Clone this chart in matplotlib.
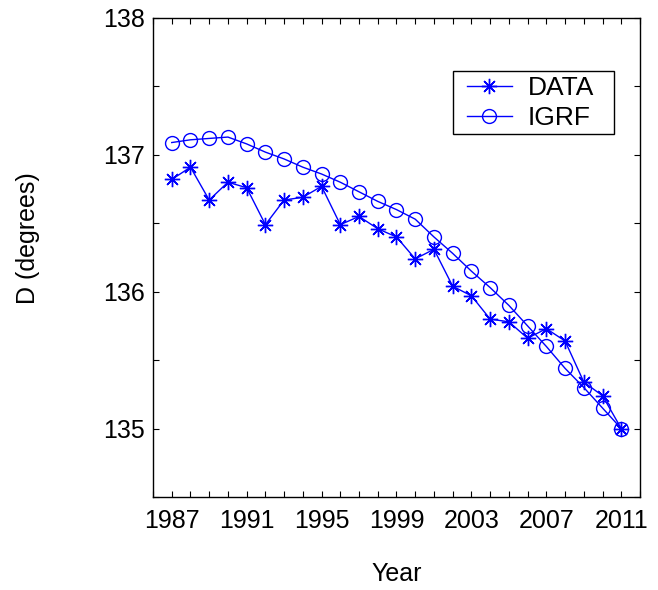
import matplotlib
matplotlib.use("Agg")
import matplotlib.pyplot as plt
from matplotlib.patches import Rectangle
from matplotlib.ticker import MultipleLocator, FixedLocator

plt.rcParams['font.family'] = ['Liberation Sans', 'DejaVu Sans']

years = list(range(1987, 2012))
data_d = [136.82, 136.91, 136.67, 136.80, 136.76, 136.49, 136.67, 136.69,
          136.77, 136.49, 136.55, 136.46, 136.40, 136.24, 136.31, 136.04,
          135.97, 135.80, 135.78, 135.66, 135.73, 135.64, 135.34, 135.24,
          135.00]
igrf_d = [137.09, 137.11, 137.12, 137.13, 137.08, 137.02, 136.97, 136.91,
          136.86, 136.80, 136.73, 136.66, 136.60, 136.53, 136.40, 136.28,
          136.15, 136.03, 135.90, 135.75, 135.60, 135.44, 135.30, 135.15,
          135.00]
year_ticks = [1987, 1991, 1995, 1999, 2003, 2007, 2011]
d_ticks = [135, 136, 137, 138]

fig = plt.figure(figsize=(6.58, 5.90), dpi=100)
ax = fig.add_axes([153 / 658, 1 - 497 / 590, 487 / 658, 479 / 590])

ax.plot(years, data_d, color='b', lw=1.0, marker=(8, 2, 0), ms=11,
        mew=1.0, label='DATA')
ax.plot(years, igrf_d, color='b', lw=1.0, marker='o', ms=10,
        mfc='none', mew=1.0, label='IGRF')

ax.set_xlim(1986, 2012)
ax.set_ylim(134.5, 138)
ax.xaxis.set_major_locator(FixedLocator(year_ticks))
ax.xaxis.set_minor_locator(MultipleLocator(1))
ax.yaxis.set_major_locator(FixedLocator(d_ticks))
ax.yaxis.set_minor_locator(MultipleLocator(0.5))
ax.tick_params(which='both', direction='in', top=True, right=True,
               length=4, width=0.8, labelsize=18)
ax.tick_params(axis='x', pad=9)
ax.tick_params(axis='y', pad=6)
for s in ax.spines.values():
    s.set_linewidth(1.0)

ax.set_xlabel('Year', fontsize=18)
ax.set_ylabel('D (degrees)', fontsize=18)
ax.xaxis.set_label_coords(0.5, -0.135)
ax.yaxis.set_label_coords(-0.232, 0.54)

# legend entries without frame, box drawn separately (MATLAB-like padding)
leg = ax.legend(loc='upper left', bbox_to_anchor=(0.6448, 0.8786),
                borderaxespad=0, borderpad=0, fontsize=19, frameon=False,
                handlelength=1.7, handletextpad=0.6, labelspacing=0.24)
ax.add_patch(Rectangle((0.6154, 0.7578), 0.3312, 0.1315,
                       transform=ax.transAxes, fill=False,
                       edgecolor='black', lw=1.0, zorder=5))

fig.savefig('out.png', dpi=100)
